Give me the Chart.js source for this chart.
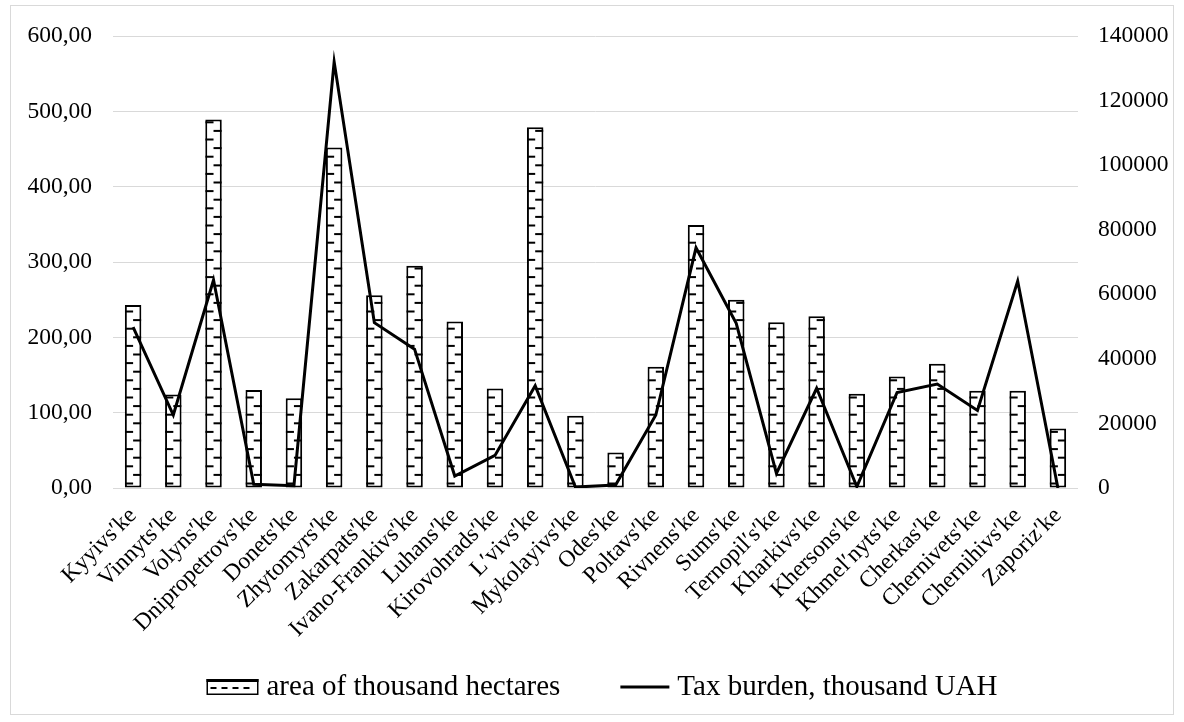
<!DOCTYPE html>
<html>
<head>
<meta charset="utf-8">
<script src="https://cdn.jsdelivr.net/npm/chart.js@4.4.1/dist/chart.umd.min.js"></script>
<style>
  html, body { margin: 0; padding: 0; background: #fff; }
  canvas { display: block; }
</style>
</head>
<body>
<canvas id="chart" width="1184" height="722"></canvas>
<script>
// Oblasts of Ukraine
const regions = [
  "Kyyivs′ke", "Vinnyts′ke", "Volyns′ke", "Dnipropetrovs′ke", "Donets′ke",
  "Zhytomyrs′ke", "Zakarpats′ke", "Ivano-Frankivs′ke", "Luhans′ke", "Kirovohrads′ke",
  "L′vivs′ke", "Mykolayivs′ke", "Odes′ke", "Poltavs′ke", "Rivnens′ke",
  "Sums′ke", "Ternopil′s′ke", "Kharkivs′ke", "Khersons′ke", "Khmel′nyts′ke",
  "Cherkas′ke", "Chernivets′ke", "Chernihivs′ke", "Zaporiz′ke"
];

// area, thousand hectares (left axis)
const areaThousandHa = [
  243, 124, 489, 130, 119, 452, 256, 295, 221, 132,
  479, 96, 47, 161, 349, 250, 220, 228, 125, 148,
  165, 129, 129, 79
];

// tax burden, thousand UAH (right axis)
const taxBurden = [
  49800, 22600, 64400, 1150, 700, 132000, 51200, 43000, 3700, 10100,
  31700, 300, 900, 22600, 74400, 51000, 4500, 30900, 400, 29600,
  32200, 24000, 64100, 0
];

const seriesNames = ["area of thousand hectares", "Tax burden, thousand UAH"];

// axis ranges: [min, max, step]
const areaAxisRange = [0, 600, 100];
const taxAxisRange = [0, 140000, 20000];

const FONT_FAMILY = '"Liberation Serif", "Times New Roman", serif';
const GRID_COLOR = '#d9d9d9';

// white page with a thin grey frame round the chart
const chartFrame = {
  id: 'chartFrame',
  beforeDraw(chart) {
    const ctx = chart.ctx;
    ctx.save();
    ctx.fillStyle = '#fff';
    ctx.fillRect(0, 0, chart.width, chart.height);
    ctx.strokeStyle = GRID_COLOR;
    ctx.lineWidth = 1;
    ctx.strokeRect(10.5, 5.5, chart.width - 21, chart.height - 13);
    ctx.restore();
  }
};

// "dashed horizontal" fill inside every bar
function drawDashes(ctx, l, top, w, base, step) {
  const mid = l + w / 2;
  let k = 0;
  for (let yy = base - 4; yy > top + 1; yy -= step, k++) {
    if (k % 2 === 0) ctx.fillRect(l, yy - 1, w / 2, 2);
    else ctx.fillRect(mid, yy - 1, w / 2, 2);
  }
}

const barDashes = {
  id: 'barDashes',
  afterDatasetDraw(chart, args) {
    if (args.meta.type !== 'bar') return;
    const ctx = chart.ctx;
    ctx.save();
    ctx.fillStyle = '#000';
    args.meta.data.forEach(bar => {
      const p = bar.getProps(['x', 'y', 'base', 'width'], true);
      const l = p.x - p.width / 2;
      ctx.save();
      ctx.beginPath();
      ctx.rect(l, p.y, p.width, p.base - p.y);
      ctx.clip();
      drawDashes(ctx, l, p.y, p.width, p.base, 8.6);
      ctx.restore();
    });
    ctx.restore();
  }
};

// legend below the axis labels
const bottomLegend = {
  id: 'bottomLegend',
  afterDraw(chart) {
    const ctx = chart.ctx;
    const ds = chart.data.datasets;
    ctx.save();
    ctx.font = '29px ' + FONT_FAMILY;
    ctx.textBaseline = 'middle';
    ctx.fillStyle = '#000';
    const cy = 687;
    const swBar = 52, swLine = 49, gapText = 8, gapItem = 60;
    const w0 = ctx.measureText(ds[0].label).width;
    const w1 = ctx.measureText(ds[1].label).width;
    const total = swBar + gapText + w0 + gapItem + swLine + gapText + w1;
    let x = 602 - total / 2;

    // bar swatch
    const sh = 16, sy = cy - sh / 2;
    ctx.fillStyle = '#fff';
    ctx.fillRect(x, sy, swBar, sh);
    ctx.fillStyle = '#000';
    ctx.fillRect(x, sy, swBar, 3);
    for (let dx = 4; dx < swBar - 4; dx += 11) ctx.fillRect(x + dx, sy + 8, 6, 2);
    ctx.strokeStyle = '#000';
    ctx.lineWidth = 1.5;
    ctx.strokeRect(x + 0.75, sy + 0.75, swBar - 1.5, sh - 1.5);
    x += swBar + gapText;
    ctx.fillText(ds[0].label, x, cy);
    x += w0 + gapItem;

    // line swatch
    ctx.lineWidth = 3;
    ctx.beginPath();
    ctx.moveTo(x, cy);
    ctx.lineTo(x + swLine, cy);
    ctx.stroke();
    x += swLine + gapText;
    ctx.fillText(ds[1].label, x, cy);
    ctx.restore();
  }
};

const tickFont = { family: FONT_FAMILY, size: 23.5 };

new Chart(document.getElementById('chart'), {
  data: {
    labels: regions,
    datasets: [
      {
        type: 'bar',
        label: seriesNames[0],
        data: areaThousandHa,
        yAxisID: 'y',
        backgroundColor: '#fff',
        borderColor: '#000',
        borderWidth: 2,
        borderSkipped: false,
        categoryPercentage: 1,
        barPercentage: 0.41,
        order: 1
      },
      {
        type: 'line',
        label: seriesNames[1],
        data: taxBurden,
        yAxisID: 'y1',
        borderColor: '#000',
        borderWidth: 3,
        pointRadius: 0,
        tension: 0,
        fill: false,
        order: 0
      }
    ]
  },
  options: {
    responsive: false,
    devicePixelRatio: 1,
    animation: false,
    layout: { padding: { top: 36, left: 0, right: 0, bottom: 60 } },
    plugins: {
      legend: { display: false },
      tooltip: { enabled: false }
    },
    scales: {
      x: {
        offset: true,
        grid: { display: false, drawTicks: false },
        border: { display: false },
        ticks: {
          font: tickFont, color: '#000',
          minRotation: 45, maxRotation: 45, autoSkip: false, padding: 14
        },
        afterFit(scale) { scale.height = 174; }
      },
      y: {
        position: 'left',
        min: areaAxisRange[0], max: areaAxisRange[1],
        grid: { color: GRID_COLOR, lineWidth: 1, drawTicks: false },
        border: { display: false },
        ticks: {
          stepSize: areaAxisRange[2], font: tickFont, color: '#000', padding: 21,
          callback: v => v.toFixed(2).replace('.', ',')
        },
        afterFit(scale) { scale.width = 113; }
      },
      y1: {
        position: 'right',
        min: taxAxisRange[0], max: taxAxisRange[1],
        grid: { display: false, drawTicks: false },
        border: { display: false },
        ticks: {
          stepSize: taxAxisRange[2], font: tickFont, color: '#000', padding: 20,
          callback: v => String(v)
        },
        afterFit(scale) { scale.width = 106; }
      }
    }
  },
  plugins: [chartFrame, barDashes, bottomLegend]
});
</script>
</body>
</html>
